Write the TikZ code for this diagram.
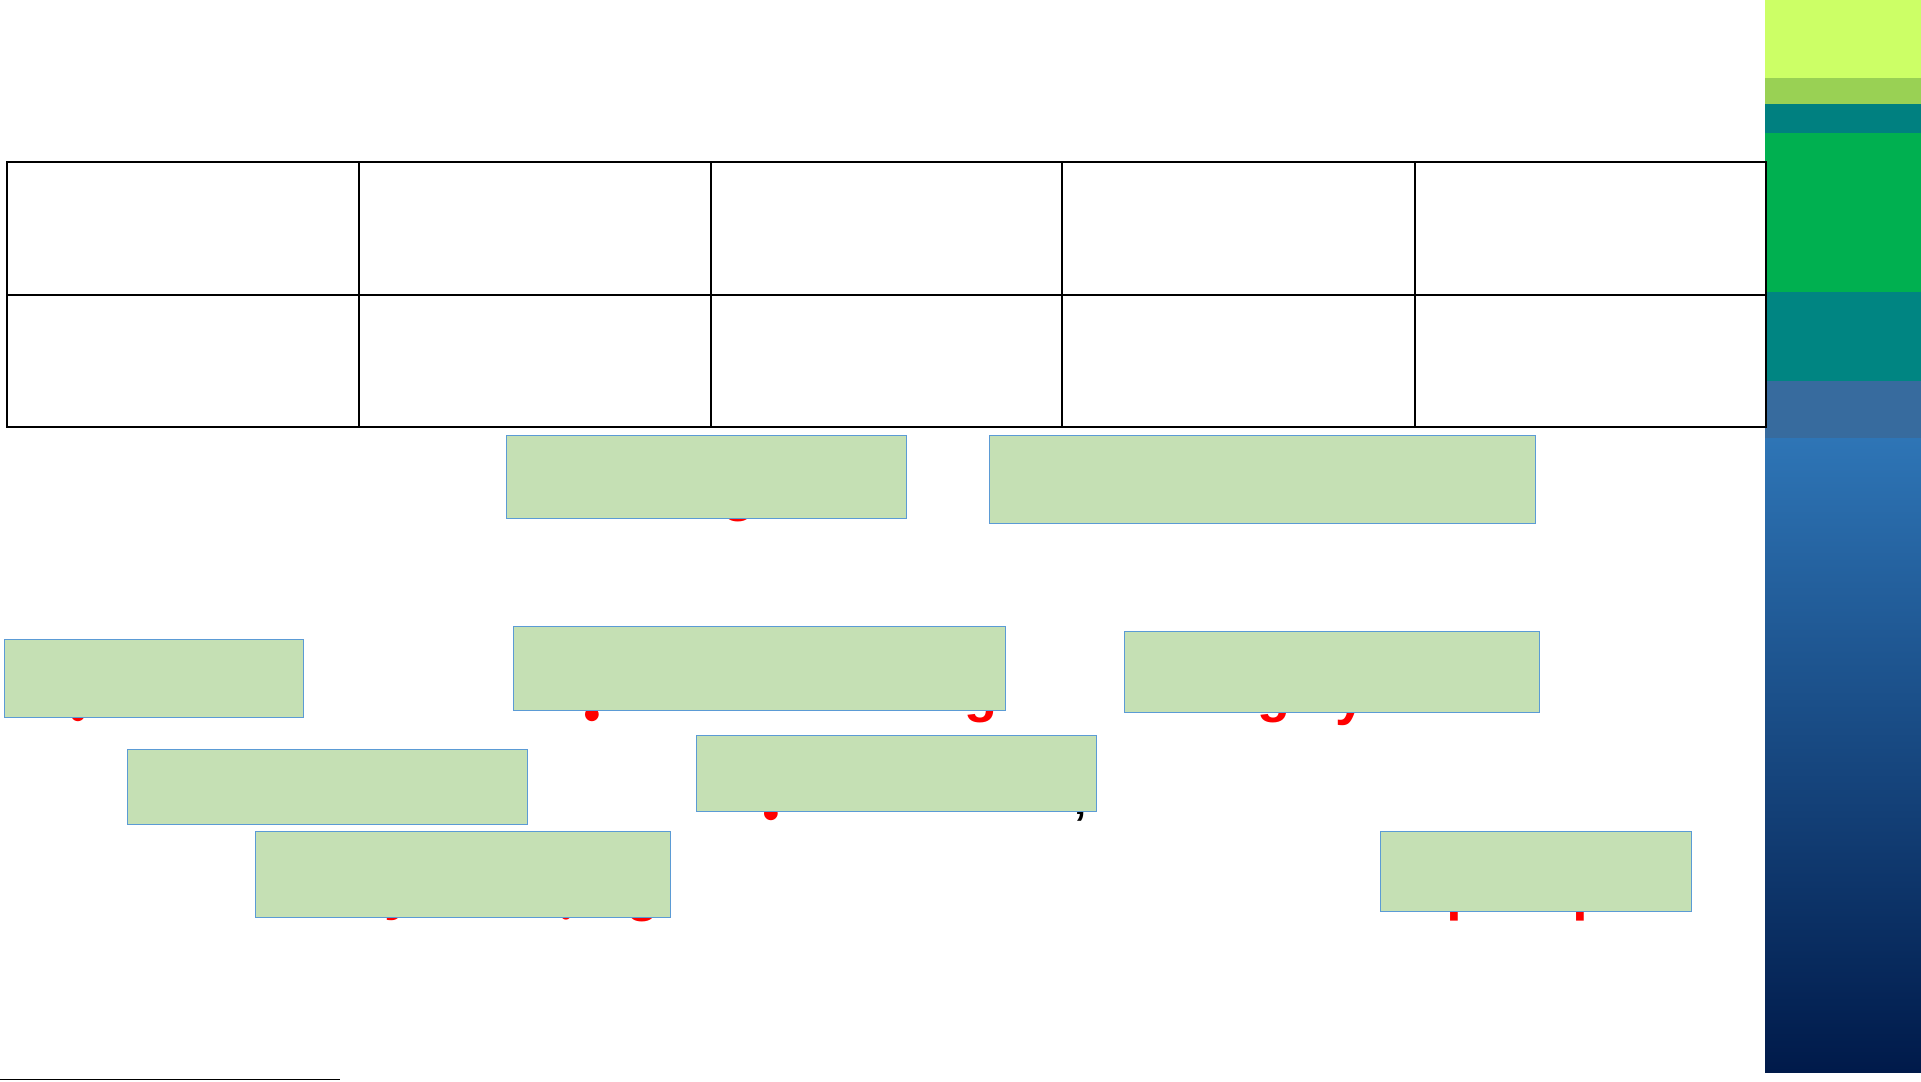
\documentclass[tikz,border=0pt]{standalone}
\usepackage{fontspec}
\newfontfamily\fragsans{Liberation Sans}
\newfontfamily\fragmono{Liberation Mono}
\newfontfamily\fragdot{DejaVu Sans}
\definecolor{bandA}{RGB}{204,255,102}
\definecolor{bandB}{RGB}{153,209,84}
\definecolor{tealA}{RGB}{0,128,128}
\definecolor{greenB}{RGB}{0,176,80}
\definecolor{tealB}{RGB}{0,133,130}
\definecolor{steel}{RGB}{55,107,158}
\definecolor{gradTop}{RGB}{46,117,182}
\definecolor{gradMid}{RGB}{35,66,118}
\definecolor{gradBot}{RGB}{0,26,74}
\definecolor{boxfill}{RGB}{197,224,180}
\definecolor{boxline}{RGB}{91,155,213}
\tikzset{
  gbox/.style={draw=boxline, fill=boxfill, line width=1.2pt, inner sep=0pt, anchor=north west},
  tabline/.style={draw=black, line width=2pt},
  fragtext/.style={text=red, inner sep=0pt, anchor=south, font=\fragsans\bfseries\fontsize{54}{60}\selectfont},
  fragmonotext/.style={text=red, inner sep=0pt, anchor=south, font=\fragmono\bfseries\fontsize{56}{60}\selectfont},
  fragdotted/.style={text=red, inner sep=0pt, anchor=center, font=\fragdot\fontsize{18}{20}\selectfont},
}
\begin{document}
\begin{tikzpicture}[x=1pt,y=-1pt]
\useasboundingbox (0,0) rectangle (1921,1081);
\fill[white] (0,0) rectangle (1921,1081);
% side bar
\fill[bandA] (1765,0) rectangle (1921,78);
\fill[bandB] (1765,78) rectangle (1921,104);
\fill[tealA] (1765,104) rectangle (1921,133);
\fill[greenB] (1765,133) rectangle (1921,292);
\fill[tealB] (1765,292) rectangle (1921,381);
\fill[steel] (1765,381) rectangle (1921,438);
\shade[top color=gradTop, middle color=gradMid, bottom color=gradBot] (1765,438) rectangle (1921,1072);
% table
\coordinate (tNW) at (7,162);
\coordinate (tSE) at (1766,427);
\draw[tabline] (tNW) rectangle (tSE);
\draw[tabline] (7,295) -- (1766,295);
\foreach \cx in {359,711,1062,1415} {\draw[tabline] (\cx,162) -- (\cx,427);}
% hidden red text fragments
\node[fragtext] (fA) at (739,522) {g};
\node[fragdotted] (fC) at (78,715) {●};
\node[fragdotted] (fD1) at (592,715) {●};
\node[fragtext] (fD2) at (981,723) {g};
\node[fragtext] (fE1) at (1274,723) {g};
\node[fragtext] (fE2) at (1350,726) {y};
\node[fragdotted] (fG1) at (771,814) {●};
\node[fragtext, text=black, font=\fragsans\bfseries\fontsize{44}{48}\selectfont] (fG2) at (1081,821) {,};
\node[fragtext] (fH1) at (400,921) {y};
\node[fragdotted, font=\fragdot\fontsize{13}{15}\selectfont] (fH2) at (566,915) {●};
\node[fragtext] (fH3) at (643,922) {g};
\node[fragmonotext] (fI1) at (1463,921) {p};
\node[fragmonotext] (fI2) at (1589,921) {p};
% green boxes
\node[gbox, minimum width=400pt, minimum height=83pt] (boxA) at (506,435) {};
\node[gbox, minimum width=546pt, minimum height=88pt] (boxB) at (989,435) {};
\node[gbox, minimum width=299pt, minimum height=78pt] (boxC) at (4,639) {};
\node[gbox, minimum width=492pt, minimum height=84pt] (boxD) at (513,626) {};
\node[gbox, minimum width=415pt, minimum height=81pt] (boxE) at (1124,631) {};
\node[gbox, minimum width=400pt, minimum height=75pt] (boxF) at (127,749) {};
\node[gbox, minimum width=400pt, minimum height=76pt] (boxG) at (696,735) {};
\node[gbox, minimum width=415pt, minimum height=86pt] (boxH) at (255,831) {};
\node[gbox, minimum width=311pt, minimum height=80pt] (boxI) at (1380,831) {};
% bottom rule
\coordinate (rL) at (0,1079.5);
\coordinate (rR) at (340,1079.5);
\draw[line width=1.5pt] (rL) -- (rR);
\end{tikzpicture}
\end{document}
